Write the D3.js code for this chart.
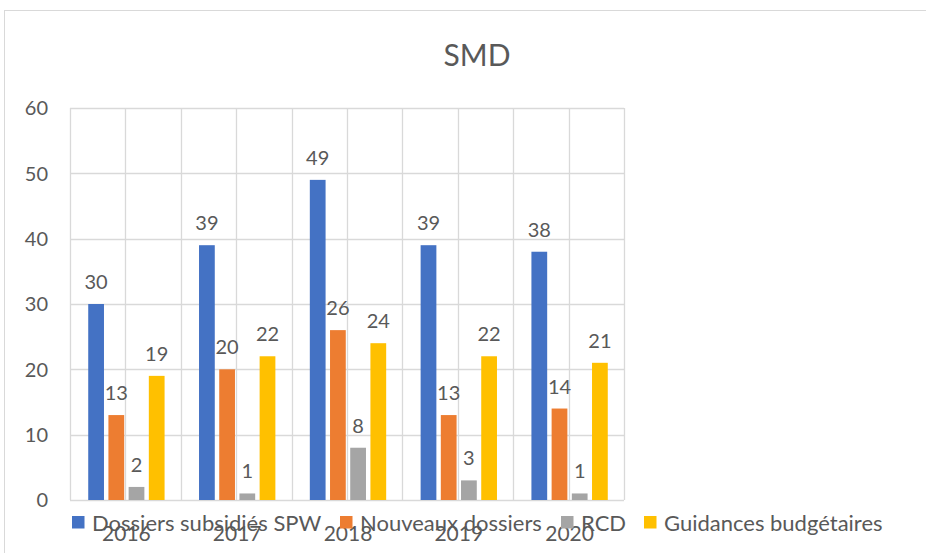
<html>
<head><meta charset="utf-8"></head>
<style>
  html, body { margin: 0; background: #fff; }
  svg { display: block; }
  text { font-family: Lato, "Open Sans", sans-serif; fill: #595959; }
</style>
<body>
<svg width="926" height="553"></svg>

<script src="https://cdnjs.cloudflare.com/ajax/libs/d3/7.8.5/d3.min.js"></script>
<script>
  // data
  const years = ['2016', '2017', '2018', '2019', '2020'];
  const seriesNames = ['Dossiers subsidiés SPW', 'Nouveaux dossiers', 'RCD', 'Guidances budgétaires'];
  const spw = [30, 39, 49, 39, 38];
  const nouveaux = [13, 20, 26, 13, 14];
  const rcd = [2, 1, 8, 3, 1];
  const guidances = [19, 22, 24, 22, 21];
  const yTicks = [0, 10, 20, 30, 40, 50, 60];
  const colors = ['#4472C4', '#ED7D31', '#A5A5A5', '#FFC000'];

  const values = [spw, nouveaux, rcd, guidances];

  const svg = d3.select('svg');
  const plotL = 70, plotR = 624, plotT = 108, plotB = 500;

  // outer chart frame
  svg.append('rect')
      .attr('x', 4.5).attr('y', 10.5)
      .attr('width', 940).attr('height', 560)
      .attr('fill', 'none').attr('stroke', '#D9D9D9');

  // title
  svg.append('text')
      .attr('x', 477).attr('y', 66)
      .attr('text-anchor', 'middle')
      .style('font-size', '30px')
      .text('SMD');

  const x0 = d3.scaleBand().domain(years).range([plotL, plotR]);
  const bw = x0.bandwidth();
  const x1 = d3.scaleBand().domain(seriesNames)
      .range([bw / 2 - 40.4 + 1, bw / 2 + 40.4 + 1])
      .paddingInner(0.22).paddingOuter(0.11);
  const y = d3.scaleLinear().domain([0, 60]).range([plotB, plotT]);

  // horizontal gridlines
  svg.append('g').selectAll('line')
    .data(yTicks)
    .join('line')
      .attr('x1', plotL).attr('x2', plotR)
      .attr('y1', d => Math.round(y(d)) + 0.5).attr('y2', d => Math.round(y(d)) + 0.5)
      .attr('stroke', '#D9D9D9').attr('stroke-width', 1.3);

  // vertical gridlines at band edges and band middles
  const vx = [];
  years.forEach(yr => { vx.push(x0(yr)); vx.push(x0(yr) + bw / 2); });
  vx.push(plotR);
  svg.append('g').selectAll('line')
    .data(vx)
    .join('line')
      .attr('x1', d => Math.round(d) + 0.5).attr('x2', d => Math.round(d) + 0.5)
      .attr('y1', plotT).attr('y2', plotB)
      .attr('stroke', '#D9D9D9').attr('stroke-width', 1.3);

  // y tick labels
  svg.append('g').selectAll('text')
    .data(yTicks)
    .join('text')
      .attr('x', 48).attr('y', d => y(d))
      .attr('dy', '0.36em')
      .attr('text-anchor', 'end')
      .style('font-size', '20px')
      .text(d => d);

  // bars + labels
  const groups = svg.append('g').selectAll('g')
    .data(years)
    .join('g')
      .attr('transform', d => `translate(${x0(d)},0)`);

  groups.each(function(yr, i) {
    const g = d3.select(this);
    const rows = seriesNames.map((s, k) => ({ s: s, v: values[k][i], c: colors[k] }));
    g.selectAll('rect')
      .data(rows)
      .join('rect')
        .attr('x', d => x1(d.s))
        .attr('y', d => y(d.v))
        .attr('width', x1.bandwidth())
        .attr('height', d => y(0) - y(d.v))
        .attr('fill', d => d.c);
    g.selectAll('text')
      .data(rows)
      .join('text')
        .attr('x', d => x1(d.s) + x1.bandwidth() / 2)
        .attr('y', d => y(d.v) - 15)
        .attr('text-anchor', 'middle')
        .style('font-size', '20px')
        .text(d => d.v);
  });

  // x labels
  svg.append('g').selectAll('text')
    .data(years)
    .join('text')
      .attr('x', d => x0(d) + bw / 2 + 1)
      .attr('y', 541)
      .attr('text-anchor', 'middle')
      .style('font-size', '21px')
      .text(d => d);

  // legend (drawn over the x labels, as in the original)
  const legendX = [72, 340, 561, 644];
  const leg = svg.append('g').selectAll('g')
    .data(seriesNames)
    .join('g')
      .attr('transform', (d, i) => `translate(${legendX[i]},516)`);
  leg.append('rect')
      .attr('width', 12.5).attr('height', 12.5)
      .attr('fill', (d, i) => colors[i]);
  leg.append('text')
      .attr('x', 20).attr('y', 15)
      .style('font-size', '22px')
      .text(d => d);
</script>
</body>
</html>
